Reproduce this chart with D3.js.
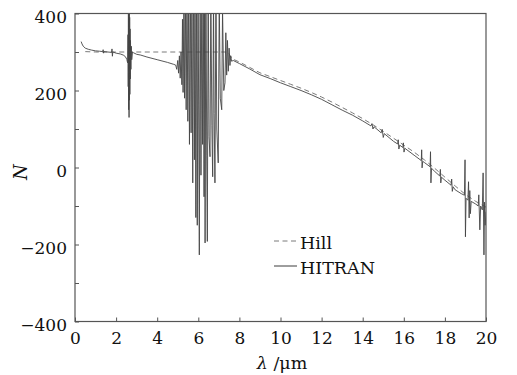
<!DOCTYPE html>
<html>
<head>
<meta charset="utf-8">
<script src="https://cdn.jsdelivr.net/npm/d3@7"></script>
<style>
  body { margin: 0; background: #fff; }
  text { font-family: "DejaVu Serif", serif; fill: #111; }
</style>
</head>
<body>
<div id="chart"></div>
<script>
// refractivity N vs wavelength (um)
const hitran = [
  [0.30,327],[0.34,321],[0.40,315],[0.50,310],[0.65,307],[0.80,305],[1.00,303],[1.20,302],
  [1.35,301],[1.37,306],[1.39,297],[1.41,301],[1.60,300],[1.78,299],[1.80,308],[1.82,289],
  [1.84,300],[2.00,297],[2.20,295],[2.35,292],[2.45,288],[2.52,281],[2.56,272],
  [2.58,345],[2.59,210],[2.60,430],[2.61,150],[2.62,455],[2.63,130],[2.64,420],[2.65,175],
  [2.66,390],[2.67,190],[2.68,360],[2.69,230],[2.70,330],[2.72,255],[2.74,315],[2.76,280],
  [2.80,300],[2.85,298],[3.00,294],[3.20,292],[3.50,287],[4.00,280],[4.50,273],[4.80,268],
  [4.90,266],[4.95,255],[5.00,278],[5.04,245],[5.08,290],[5.12,232],[5.16,300],[5.20,215],
  [5.23,385],[5.26,195],[5.30,420],[5.33,180],[5.37,450],[5.41,150],[5.45,480],[5.49,120],
  [5.53,470],[5.57,60],[5.61,500],[5.65,90],[5.69,460],[5.73,-40],[5.77,520],[5.81,20],
  [5.84,490],[5.88,-130],[5.92,530],[5.95,-150],[5.99,470],[6.05,-227],[6.09,510],[6.13,-20],
  [6.17,480],[6.21,60],[6.24,500],[6.28,-76],[6.31,470],[6.33,-196],[6.37,520],[6.41,30],
  [6.44,-192],[6.48,490],[6.52,80],[6.57,28],[6.61,460],[6.66,110],[6.70,-24],[6.74,450],
  [6.77,140],[6.81,-40],[6.86,470],[6.90,100],[6.97,12],[7.02,430],[7.07,180],[7.14,150],
  [7.18,410],[7.24,200],[7.30,220],[7.34,350],[7.38,240],[7.42,330],[7.46,250],[7.50,310],
  [7.54,265],[7.58,290],[7.62,276],[7.70,278],
  [8.00,270],[8.50,256],[9.00,241],[9.50,231],[10.00,220],[10.50,210],[11.00,200],[11.50,189],
  [12.00,177],[12.50,163],[13.00,149],[13.50,136],[14.00,121],[14.40,108],[14.45,114],[14.50,100],
  [14.55,106],[14.90,90],[14.95,99],[15.00,78],[15.05,88],[15.50,68],[15.70,61],[15.73,72],
  [15.76,48],[15.80,58],[15.95,52],[15.98,64],[16.01,40],[16.05,50],[16.50,32],[16.85,18],
  [16.87,46],[16.89,-1],[16.92,16],[17.00,13],[17.28,2],[17.30,41],[17.32,-40],[17.35,-2],
  [17.50,-10],[17.75,-22],[17.78,-5],[17.80,-40],[17.83,-25],[18.00,-33],[18.30,-46],[18.33,-30],
  [18.36,-62],[18.40,-50],[18.50,-58],[18.80,-68],[18.95,-72],[18.98,20],[19.00,-180],[19.03,-80],
  [19.12,-85],[19.15,-37],[19.18,-131],[19.21,-60],[19.24,-120],[19.28,-88],[19.50,-95],[19.62,-100],
  [19.65,-71],[19.70,-162],[19.74,-100],[19.82,-110],[19.86,-14],[19.90,-227],[19.93,-90],[19.96,-150],
  [20.00,-115]
];

const hill = [
  [0.5,301],[1.0,300],[7.45,300],[7.62,283],[8.0,274],[8.5,260],[9.0,246],[9.5,236],[10.0,226],
  [10.5,216],[11.0,206],[11.5,195],[12.0,183],[12.5,170],[13.0,156],[13.5,142],[14.0,127],
  [14.5,111],[15.0,94],[15.5,76],[16.0,58],[16.5,40],[17.0,20],[17.5,-2],[18.0,-25],
  [18.5,-48],[19.0,-70],[19.5,-88],[20.0,-103]
];

const xTicks = [0, 2, 4, 6, 8, 10, 12, 14, 16, 18, 20];
const yTicks = [-400, -300, -200, -100, 0, 100, 200, 300, 400];
const yLabels = [-400, -200, 0, 200, 400];

const width = 517, height = 375;
const margin = { top: 13.5, right: 31, bottom: 53.5, left: 75 };
const w = width - margin.left - margin.right;
const h = height - margin.top - margin.bottom;

const svg = d3.select('#chart').append('svg')
  .attr('width', width)
  .attr('height', height);

const x = d3.scaleLinear().domain([0, 20]).range([0, w]);
const y = d3.scaleLinear().domain([-400, 400]).range([h, 0]);

const g = svg.append('g')
  .attr('transform', `translate(${margin.left},${margin.top})`);

g.append('clipPath').attr('id', 'clip')
  .append('rect').attr('width', w).attr('height', h);

const line = d3.line()
  .x(d => x(d[0]))
  .y(d => y(d[1]));

const plot = g.append('g').attr('clip-path', 'url(#clip)');

plot.append('path')
  .datum(hill)
  .attr('d', line)
  .attr('fill', 'none')
  .attr('stroke', '#7a7a7a')
  .attr('stroke-width', 1)
  .attr('stroke-dasharray', '5,3.5');

plot.append('path')
  .datum(hitran)
  .attr('d', line)
  .attr('fill', 'none')
  .attr('stroke', '#454545')
  .attr('stroke-width', 0.9);

// frame
g.append('rect')
  .attr('width', w).attr('height', h)
  .attr('fill', 'none')
  .attr('stroke', '#555')
  .attr('stroke-width', 1.2);

// axes, ticks pointing inward
const xAxis = g.append('g')
  .attr('transform', `translate(0,${h})`)
  .call(d3.axisBottom(x).tickValues(xTicks).tickSize(-4).tickPadding(10).tickFormat(d3.format('d')));

const yAxis = g.append('g')
  .call(d3.axisLeft(y).tickValues(yTicks).tickSize(-4).tickPadding(8)
    .tickFormat(d => yLabels.includes(d) ? d3.format('d')(d).replace('-', '\u2212') : ''));

[xAxis, yAxis].forEach(a => {
  a.select('.domain').remove();
  a.selectAll('.tick line').attr('stroke', '#555');
  a.selectAll('.tick text')
    .style('font-family', '"DejaVu Serif", serif')
    .style('font-size', '17px')
    .attr('fill', '#111');
});
yAxis.selectAll('.tick text').attr('dy', '0.5em');

// axis titles
svg.append('text')
  .attr('x', 282).attr('y', 369)
  .attr('text-anchor', 'middle')
  .style('font-size', '17.5px')
  .html('<tspan font-style="italic">λ</tspan> /μm');

svg.append('text')
  .attr('transform', 'translate(27,172) rotate(-90)')
  .attr('text-anchor', 'middle')
  .style('font-size', '18px')
  .style('font-style', 'italic')
  .text('N');

// legend
const legend = svg.append('g');
const items = [
  { label: 'Hill', dash: '5,3.5', color: '#7a7a7a', y: 241 },
  { label: 'HITRAN', dash: null, color: '#3c3c3c', y: 266 }
];
items.forEach(it => {
  legend.append('line')
    .attr('x1', 274).attr('x2', 297)
    .attr('y1', it.y).attr('y2', it.y)
    .attr('stroke', it.color)
    .attr('stroke-width', 1)
    .attr('stroke-dasharray', it.dash);
  legend.append('text')
    .attr('x', 300).attr('y', it.y + 7.5)
    .style('font-size', '17.5px')
    .text(it.label);
});
</script>
</body>
</html>
